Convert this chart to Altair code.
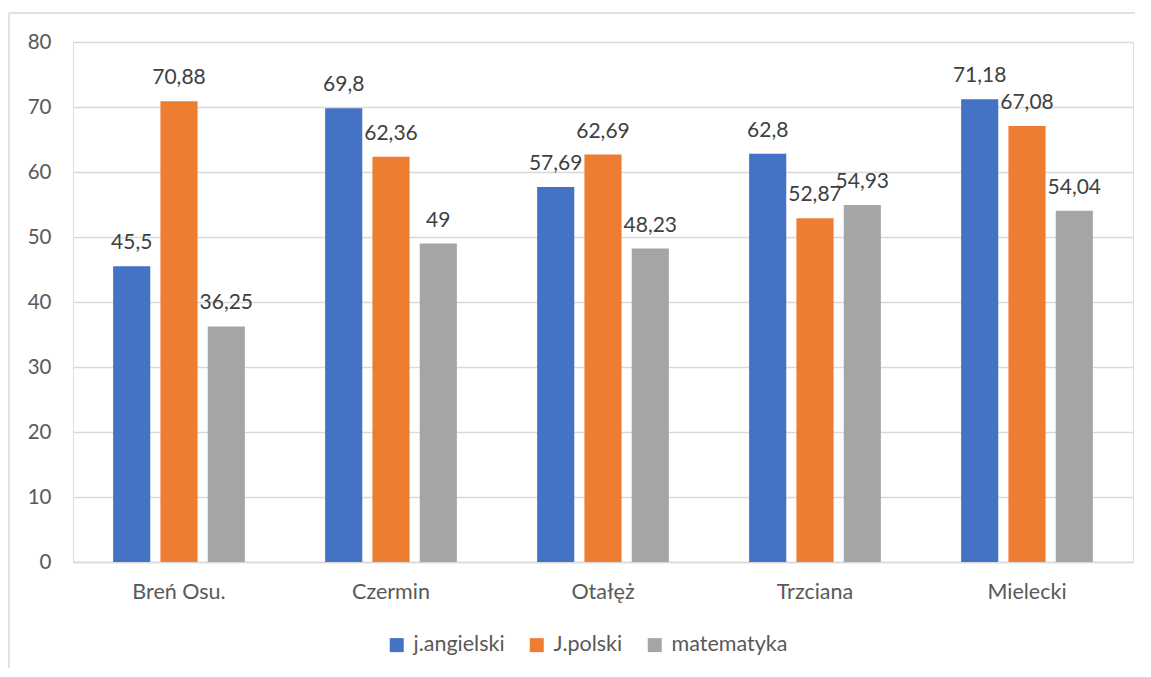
import altair as alt
import pandas as pd

categories = ["Breń Osu.", "Czermin", "Otałęż", "Trzciana", "Mielecki"]
series = ["j.angielski", "J.polski", "matematyka"]
angielski = [45.5, 69.8, 57.69, 62.8, 71.18]
polski = [70.88, 62.36, 62.69, 52.87, 67.08]
matematyka = [36.25, 49, 48.23, 54.93, 54.04]
colors = ["#4472C4", "#ED7D31", "#A5A5A5"]

rows = []
for s, vals in zip(series, [angielski, polski, matematyka]):
    for c, v in zip(categories, vals):
        rows.append({"cat": c, "series": s, "value": v})
df = pd.DataFrame(rows)

FONT = "Lato"

x = alt.X("cat:N", sort=categories, title=None,
          scale=alt.Scale(paddingInner=0, paddingOuter=0),
          axis=alt.Axis(labelAngle=0, labelFontSize=21.5, labelColor="#595959",
                        labelFont=FONT, ticks=False, domainColor="#D9D9D9",
                        domainWidth=1.5, labelPadding=19, grid=False))
xo = alt.XOffset("series:N", sort=series,
                 scale=alt.Scale(paddingInner=0.215, paddingOuter=0.848))
y = alt.Y("value:Q", title=None,
          scale=alt.Scale(domain=[0, 80], nice=False),
          axis=alt.Axis(values=list(range(0, 81, 10)), labelFontSize=20.5,
                        labelColor="#595959", labelFont=FONT, ticks=False,
                        domain=False, gridColor="#D9D9D9", gridWidth=1.3,
                        labelPadding=22))

base = alt.Chart(df)

bars = base.mark_bar().encode(
    x=x, xOffset=xo, y=y,
    color=alt.Color("series:N", sort=series,
                    scale=alt.Scale(domain=series, range=colors),
                    legend=alt.Legend(title=None, orient="none", direction="horizontal",
                                      legendX=313, legendY=592,
                                      symbolType="square", symbolSize=196,
                                      symbolStrokeWidth=0, labelFontSize=21.5,
                                      labelFont=FONT, labelColor="#595959",
                                      labelOffset=6, columnPadding=21)),
)

labels = base.transform_calculate(
    lbl="replace(format(datum.value, ''), '.', ',')"
).mark_text(fontSize=21, font=FONT, color="#404040", baseline="alphabetic",
            dy=-17).encode(
    x=x, xOffset=xo, y=y, text="lbl:N"
)

border_top = alt.Chart(pd.DataFrame({"a": [0]})).mark_rule(
    color="#D9D9D9", strokeWidth=1.5).encode(
    x=alt.value(-64), x2=alt.value(1200), y=alt.value(-29))
border_left = alt.Chart(pd.DataFrame({"a": [0]})).mark_rule(
    color="#D9D9D9", strokeWidth=1.5).encode(
    x=alt.value(-64), y=alt.value(-29), y2=alt.value(700))

chart = alt.layer(bars, labels, border_top, border_left).properties(
    width=1060, height=520,
    autosize=alt.AutoSizeParams(type="none"),
    padding={"left": 65, "top": 34, "right": 2, "bottom": 106},
).configure_view(stroke=None).configure(background="white")

chart.save("out.html", embed_options={"renderer": "svg", "actions": False})
